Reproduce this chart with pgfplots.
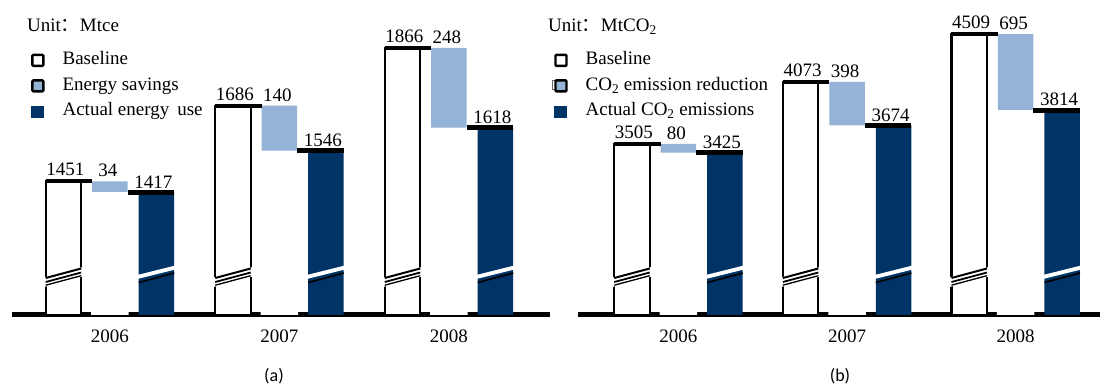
\documentclass[border=0pt]{standalone}
\usepackage{fontspec}
\setmainfont{Liberation Serif}
\newfontfamily\cjk{Noto Sans CJK SC}
\newfontfamily\calibri{Carlito}
\usepackage{pgfplots}
\usepackage{pgfplotstable}
\pgfplotsset{compat=1.18}
\definecolor{lblue}{RGB}{149,179,215}
\definecolor{dblue}{RGB}{0,51,102}
\newcommand\fs{\fontsize{19}{22}\selectfont}

\pgfplotstableread{
x base save actual
1 1451 34 1417
2 1686 140 1546
3 1866 248 1618
}\dataA
\pgfplotstableread{
x base save actual
1 3505 80 3425
2 4073 398 3674
3 4509 695 3814
}\dataB

% axis-break marks (decoration)
\newcommand\bbrk[2]{%
 \begin{scope}[shift={(axis cs:#1,#2)}, xshift=-46.5pt]
  \fill[white] (-19.5pt,28pt) -- (19.5pt,38.5pt) -- (19.5pt,48pt) -- (-19.5pt,37.5pt) -- cycle;
  \draw[line width=2pt] (-17.75pt,37pt) -- (17.75pt,46.5pt);
  \draw[line width=1.8pt] (-17.75pt,33pt) -- (17.75pt,42.5pt);
  \draw[line width=1.3pt] (-17.75pt,29.8pt) -- (17.75pt,39.3pt);
 \end{scope}}
\newcommand\abrk[2]{%
 \begin{scope}[shift={(axis cs:#1,#2)}, xshift=46.5pt]
  \fill[white] (-19pt,36pt) -- (19pt,45.5pt) -- (19pt,49.5pt) -- (-19pt,40pt) -- cycle;
  \draw[line width=1.6pt] (-17.75pt,32.5pt) -- (17.75pt,42pt);
 \end{scope}}

\pgfplotsset{
  wf/.style={
    scale only axis, height=315pt,
    axis x line=bottom, axis y line=none,
    axis line style={line width=5pt, -},
    xtick={1,2,3}, xticklabels={\mbox{2006},\mbox{2007},\mbox{2008}},
    major tick length=0pt,
    xticklabel style={font=\fs, inner sep=0pt, yshift=-15pt},
    legend cell align=left,
    legend style={draw=none, fill=none, font=\fs, inner sep=0pt,
      row sep=8.5pt, column sep=18pt, anchor=north west,
      nodes={inner sep=0pt, text height=13pt, text depth=4pt}},
  },
  lbl/.style={point meta=explicit symbolic, nodes near coords={\pgfplotspointmeta},
    every node near coord/.append style={font=\fs, inner sep=1pt, yshift=3pt, anchor=south, xshift=#1}},
  basebar/.style={ybar, bar width=35.5pt, bar shift=-46.5pt, draw=black, fill=white,
    line width=2.2pt, forget plot, lbl=-44.5pt},
  savebar/.style={ybar, bar width=35.5pt, bar shift=0pt, draw=none, fill=lblue,
    forget plot, lbl=-2pt},
  coverbar/.style={ybar, bar width=37.5pt, bar shift=0pt, draw=none, fill=white, forget plot},
  actbar/.style={ybar, bar width=35.5pt, bar shift=46.5pt, draw=none, fill=dblue,
    forget plot, lbl=43.5pt},
  capB/.style={only marks, mark=-, mark size=23.25pt, forget plot,
    mark options={line width=4pt, xshift=-41pt}},
  capA/.style={only marks, mark=-, mark size=23.25pt, forget plot,
    mark options={line width=5pt, xshift=41pt}},
}

\begin{document}
\begin{tikzpicture}[x=1pt,y=1pt]
\path[use as bounding box] (0,0) rectangle (1103,385);

% ---------------- panel (a)
\begin{axis}[wf, at={(12pt,70pt)}, anchor=south west, width=538pt,
  xmin=0.422, xmax=3.596, ymin=1035, ymax=2015,
  legend style={at={(0.0353,0.836)}}]
\addlegendimage{legend image code/.code={\draw[black, line width=2.4pt, fill=white, rounded corners=1pt] (0pt,-5.5pt) rectangle (11pt,5.5pt);}}
\addlegendentry{Baseline}
\addlegendimage{legend image code/.code={\draw[black, line width=2.4pt, fill=lblue, rounded corners=1pt] (0pt,-5.5pt) rectangle (11pt,5.5pt);}}
\addlegendentry{Energy savings}
\addlegendimage{legend image code/.code={\fill[dblue] (-1pt,-5.5pt) rectangle (11pt,5.5pt);}}
\addlegendentry{Actual energy\, use}
\addplot[basebar] table[x=x, y=base, meta=base] {\dataA};
\addplot[savebar] table[x=x, y=base, meta=save] {\dataA};
\addplot[coverbar] table[x=x, y=actual] {\dataA};
\addplot[actbar] table[x=x, y=actual, meta=actual] {\dataA};
\addplot[capB] table[x=x, y=base] {\dataA};
\addplot[capA] table[x=x, y=actual] {\dataA};
\bbrk{1}{1035}\bbrk{2}{1035}\bbrk{3}{1035}
\abrk{1}{1035}\abrk{2}{1035}\abrk{3}{1035}
\end{axis}

% ---------------- panel (b)
\begin{axis}[wf, at={(578pt,70pt)}, anchor=south west, width=522pt,
  xmin=0.404, xmax=3.50, ymin=1943, ymax=4820,
  legend style={at={(-0.050,0.836)}}]
\addlegendimage{legend image code/.code={\draw[black, line width=2.4pt, fill=white, rounded corners=1pt] (0pt,-5.5pt) rectangle (11pt,5.5pt);}}
\addlegendentry{Baseline}
\addlegendimage{legend image code/.code={\draw[black!60, line width=0.8pt] (-1pt,-4pt) -- (-3pt,-4pt) -- (-3pt,5pt) -- (-1pt,5pt);\draw[black, line width=2.4pt, fill=lblue, rounded corners=1pt] (0pt,-5.5pt) rectangle (11pt,5.5pt);}}
\addlegendentry{CO\textsubscript{2} emission reduction}
\addlegendimage{legend image code/.code={\fill[dblue] (-1pt,-5.5pt) rectangle (11pt,5.5pt);}}
\addlegendentry{Actual CO\textsubscript{2} emissions}
\addplot[basebar] table[x=x, y=base, meta=base] {\dataB};
\addplot[savebar] table[x=x, y=base, meta=save] {\dataB};
\addplot[coverbar] table[x=x, y=actual] {\dataB};
\addplot[actbar] table[x=x, y=actual, meta=actual] {\dataB};
\addplot[capB] table[x=x, y=base] {\dataB};
\addplot[capA] table[x=x, y=actual] {\dataB};
\bbrk{1}{1943}\bbrk{2}{1943}\bbrk{3}{1943}
\abrk{1}{1943}\abrk{2}{1943}\abrk{3}{1943}
\end{axis}

% unit labels and panel captions
\node[anchor=base west, font=\fs, inner sep=0pt] at (27,353) {Unit{\cjk ：}Mtce};
\node[anchor=base west, font=\fs, inner sep=0pt] at (548,353) {Unit{\cjk ：}MtCO\textsubscript{2}};
\node[font=\calibri\fontsize{18}{20}\selectfont] at (274,9) {(a)};
\node[font=\calibri\fontsize{18}{20}\selectfont] at (840,9) {(b)};
\end{tikzpicture}
\end{document}
